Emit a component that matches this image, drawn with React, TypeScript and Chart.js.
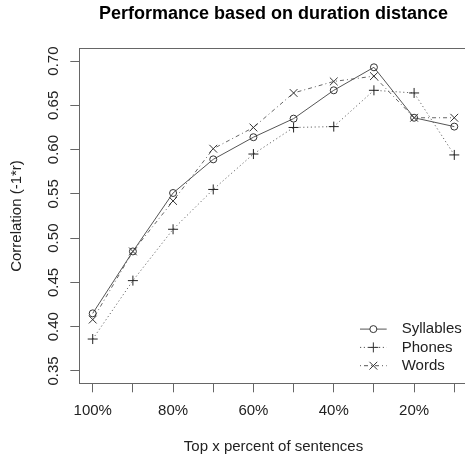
import React, { useEffect, useRef } from "react";
import { Chart, registerables } from "chart.js";

Chart.register(...registerables);

const categories = ["100%", "90%", "80%", "70%", "60%", "50%", "40%", "30%", "20%", "10%"];
const xTickLabels = ["100%", "", "80%", "", "60%", "", "40%", "", "20%", ""];
const yTickValues = [0.35, 0.4, 0.45, 0.5, 0.55, 0.6, 0.65, 0.7];

const syllables = [0.415, 0.485, 0.551, 0.589, 0.614, 0.635, 0.667, 0.693, 0.636, 0.626];
const phones = [0.386, 0.452, 0.510, 0.555, 0.595, 0.625, 0.626, 0.667, 0.664, 0.594];
const words = [0.408, 0.485, 0.542, 0.601, 0.625, 0.664, 0.677, 0.683, 0.636, 0.636];

const seriesNames = ["Syllables", "Phones", "Words"];

const FONT = "'Liberation Sans', Arial, Helvetica, sans-serif";

type LegendSpec = { label: string; dash: number[]; style: string; radius: number };

const legendPlugin = {
  id: "rLegend",
  afterDraw(chart: any) {
    const ctx = chart.ctx as CanvasRenderingContext2D;
    const area = chart.chartArea;
    const items: LegendSpec[] = chart.data.datasets.map((d: any) => ({
      label: d.label,
      dash: d.borderDash || [],
      style: d.pointStyle,
      radius: d.pointRadius,
    }));
    const rowH = 18.3;
    const lastY = area.bottom - 17.6;
    const lineX0 = area.left + 280.7;
    const lineX1 = area.left + 307.4;
    const textX = area.left + 322.4;
    ctx.save();
    items.forEach((it, i) => {
      const y = lastY - (items.length - 1 - i) * rowH;
      ctx.strokeStyle = "#555";
      ctx.lineWidth = 1;
      ctx.setLineDash(it.dash);
      ctx.beginPath();
      ctx.moveTo(lineX0, y);
      ctx.lineTo(lineX1, y);
      ctx.stroke();
      ctx.setLineDash([]);
      const cx = (lineX0 + lineX1) / 2;
      ctx.strokeStyle = "#333";
      ctx.fillStyle = "#fff";
      ctx.beginPath();
      if (it.style === "circle") {
        ctx.arc(cx, y, it.radius, 0, Math.PI * 2);
        ctx.fill();
        ctx.stroke();
      } else if (it.style === "cross") {
        ctx.moveTo(cx - it.radius, y);
        ctx.lineTo(cx + it.radius, y);
        ctx.moveTo(cx, y - it.radius);
        ctx.lineTo(cx, y + it.radius);
        ctx.stroke();
      } else {
        const o = it.radius * Math.SQRT1_2;
        ctx.moveTo(cx - o, y - o);
        ctx.lineTo(cx + o, y + o);
        ctx.moveTo(cx - o, y + o);
        ctx.lineTo(cx + o, y - o);
        ctx.stroke();
      }
      ctx.fillStyle = "#222";
      ctx.font = `15px ${FONT}`;
      ctx.textAlign = "left";
      ctx.textBaseline = "middle";
      ctx.fillText(it.label, textX, y);
    });
    ctx.restore();
  },
};

export default function App() {
  const ref = useRef<HTMLCanvasElement | null>(null);

  useEffect(() => {
    if (!ref.current) return;
    const mk = (vals: number[]) => vals.map((v, i) => ({ x: i + 1, y: v }));
    const chart = new Chart(ref.current, {
      type: "line",
      data: {
        datasets: [
          {
            label: seriesNames[0],
            data: mk(syllables),
            borderColor: "#555",
            borderWidth: 1,
            borderDash: [],
            pointStyle: "circle",
            pointRadius: 3.5,
            pointBorderColor: "#333",
            pointBackgroundColor: "rgba(255,255,255,0)",
            pointBorderWidth: 1,
            tension: 0,
            fill: false,
          },
          {
            label: seriesNames[1],
            data: mk(phones),
            borderColor: "#666",
            borderWidth: 1,
            borderDash: [1.2, 2.6],
            pointStyle: "cross",
            pointRadius: 5,
            pointBorderColor: "#222",
            pointBackgroundColor: "#222",
            pointBorderWidth: 1,
            tension: 0,
            fill: false,
          },
          {
            label: seriesNames[2],
            data: mk(words),
            borderColor: "#666",
            borderWidth: 1,
            borderDash: [1, 3, 4, 3],
            pointStyle: "crossRot",
            pointRadius: 5.5,
            pointBorderColor: "#333",
            pointBackgroundColor: "#333",
            pointBorderWidth: 1,
            tension: 0,
            fill: false,
          },
        ],
      },
      options: {
        responsive: false,
        animation: false,
        events: [],
        layout: { padding: { left: 0, right: 12.3, top: 0, bottom: 0 } },
        plugins: {
          legend: { display: false },
          tooltip: { enabled: false },
          title: {
            display: true,
            text: "Performance based on duration distance",
            fullSize: false,
            color: "#000",
            font: { family: FONT, size: 18, weight: "bold" },
            padding: { top: 2.9, bottom: 10 },
          },
        },
        scales: {
          x: {
            type: "linear",
            position: "bottom",
            min: 0.666,
            max: 10.334,
            afterBuildTicks: (s: any) => {
              s.ticks = categories.map((_, i) => ({ value: i + 1 }));
            },
            afterFit: (s: any) => {
              s.height = 75.7;
            },
            ticks: {
              autoSkip: false,
              maxRotation: 0,
              minRotation: 0,
              padding: 10,
              color: "#222",
              font: { family: FONT, size: 15 },
              callback: (_v: any, i: number) => xTickLabels[i],
            },
            grid: { drawOnChartArea: false, drawTicks: true, tickLength: 9, color: "#666" },
            border: { display: true, color: "#666", width: 1 },
            title: {
              display: true,
              text: "Top x percent of sentences",
              color: "#222",
              font: { family: FONT, size: 15 },
              padding: { top: 0, bottom: 3.3 },
            },
          },
          x2: {
            type: "linear",
            position: "top",
            min: 0.666,
            max: 10.334,
            afterFit: (s: any) => {
              s.height = 14.2;
            },
            ticks: { display: false },
            grid: { display: false, drawTicks: false },
            border: { display: true, color: "#666", width: 1 },
          },
          y: {
            type: "linear",
            position: "left",
            min: 0.336,
            max: 0.714,
            afterBuildTicks: (s: any) => {
              s.ticks = yTickValues.map((v) => ({ value: v }));
            },
            afterFit: (s: any) => {
              s.width = 79.3;
            },
            ticks: {
              autoSkip: false,
              minRotation: 90,
              maxRotation: 90,
              crossAlign: "center",
              padding: 2.2,
              color: "#222",
              font: { family: FONT, size: 15 },
              callback: (v: any) => Number(v).toFixed(2),
            },
            grid: { drawOnChartArea: false, drawTicks: true, tickLength: 9, color: "#666" },
            border: { display: true, color: "#666", width: 1 },
            title: {
              display: true,
              text: "Correlation (-1*r)",
              color: "#222",
              font: { family: FONT, size: 15 },
              padding: { top: 8, bottom: 0 },
            },
          },
        },
      } as any,
      plugins: [legendPlugin],
    });
    return () => chart.destroy();
  }, []);

  return (
    <div
      style={{
        position: "fixed",
        left: 0,
        top: 0,
        width: 465,
        height: 459,
        overflow: "hidden",
        background: "#fff",
      }}
    >
      <canvas ref={ref} width={480} height={459} style={{ display: "block" }} />
    </div>
  );
}
